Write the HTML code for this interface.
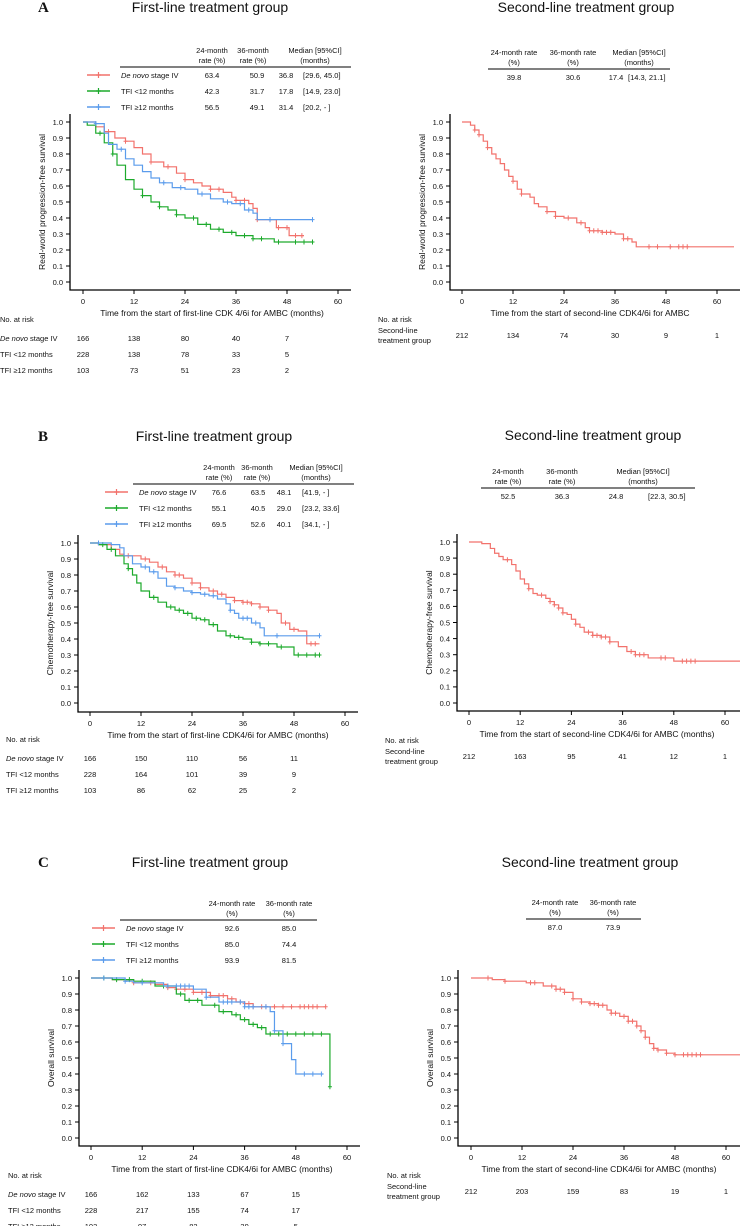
<!DOCTYPE html>
<html><head><meta charset="utf-8"><style>
body{margin:0;background:#fff;width:740px;height:1226px;overflow:hidden}
svg{display:block;font-family:"Liberation Sans",Arial,sans-serif}
</style></head><body>
<svg id="fig" width="740" height="1226" viewBox="0 0 740 1226" xmlns="http://www.w3.org/2000/svg"></svg>
<script>
// ---- data (months, survival) ----
const ticksX=[0,12,24,36,48,60];
const ticksY=[0,0.1,0.2,0.3,0.4,0.5,0.6,0.7,0.8,0.9,1.0];
// Panel A (rwPFS)
const aRedT=[0,3,5,7.5,10,12,14,16,19,22,24,26,28,30,33,35,36,39,40,41,45.5,48.5];
const aRedS=[1,.97,.94,.9,.88,.84,.8,.75,.72,.68,.64,.62,.6,.58,.56,.53,.51,.49,.46,.39,.34,.29];
const aRedEnd=52;const aRedC=[6,10,16,20,24,30,32,36,38,41,44,46,48,50,51.5];
const aGrnT=[0,1,3,5,7,8,10,12,14,16,18,20,22,24,27,30,33,36,40,45];
const aGrnS=[1,.98,.93,.87,.8,.73,.64,.58,.54,.5,.47,.45,.42,.4,.36,.33,.31,.29,.27,.25];
const aGrnEnd=54;const aGrnC=[4,7,14,18,22,26,29,32,35,38,40,42,46,50,52,54];
const aBluT=[0,3,5,6,8,10,12,14,16,18,21,24,27,30,33,35,38,40,41];
const aBluS=[1,.99,.93,.86,.83,.77,.73,.69,.65,.62,.59,.58,.55,.52,.5,.49,.45,.43,.39];
const aBluEnd=54;const aBluC=[3,9,19,23,28,34,37,39,44,54];
const a2T=[0,2,3,4,5,6,7,8,9,10,11,12,13,14,16,17,18,20,22,24,27,29,30,33,36,38,40,41];
const a2S=[1,.98,.95,.92,.88,.84,.8,.77,.74,.7,.66,.63,.58,.55,.53,.49,.47,.44,.41,.4,.37,.34,.32,.31,.3,.27,.25,.22];
const a2End=64;const a2C=[3,4,6,12,14,20,22,25,28,30,31,32,33,34,35,38,39,44,46,49,51,52,53];
// Panel B (CFS)
const bRedT=[0,2,5,7,8,12,14,16,18,20,22,24,26,28,30,32,34,36,38,40,42,44,45,47,49,51];
const bRedS=[1,.99,.96,.93,.92,.9,.88,.85,.82,.8,.78,.75,.72,.7,.68,.66,.64,.63,.62,.6,.58,.56,.5,.46,.45,.37];
const bRedEnd=54;const bRedC=[9,13,17,20,21,24,26,29,31,34,36,37,38,40,42,46,48,52,53];
const bGrnT=[0,2,4,6,8,9,10,11,12,14,16,18,20,22,24,26,28,30,32,34,36,38,40,44,48];
const bGrnS=[1,.99,.96,.92,.87,.84,.8,.75,.7,.66,.63,.6,.58,.56,.53,.52,.49,.45,.42,.41,.4,.38,.37,.35,.3];
const bGrnEnd=54;const bGrnC=[3,5,9,15,19,21,23,25,27,29,33,35,38,40,42,45,49,51,53,54];
const bBluT=[0,5,7,8,10,12,14,16,18,20,22,24,26,28,30,32,33,34,35,38,40,41];
const bBluS=[1,.99,.97,.92,.87,.85,.82,.78,.73,.72,.7,.69,.68,.67,.65,.62,.58,.56,.53,.5,.47,.42];
const bBluEnd=54;const bBluC=[2,13,15,20,24,27,29,33,36,37,39,44,54];
const b2T=[0,3,5,6,7,8,10,11,12,13,14,15,16,18,19,20,21,22,23,24,25,26,27,29,31,33,35,37,39,42,48];
const b2S=[1,.99,.96,.93,.91,.89,.86,.82,.77,.74,.71,.68,.67,.65,.63,.61,.59,.56,.55,.52,.49,.47,.44,.42,.41,.38,.35,.32,.3,.28,.26];
const b2End=64;const b2C=[9,14,17,19,20,21,22,25,28,29,30,31,32,33,38,39,40,41,45,46,50,51,52,53];
// Panel C (OS)
const cRedT=[0,5,10,15,18,20,24,28,32,34,36,38];
const cRedS=[1,.99,.97,.96,.94,.93,.91,.89,.87,.85,.84,.82];
const cRedEnd=55;const cRedC=[10,14,18,20,22,24,26,28,30,31,33,35,36,37,38,40,41,43,45,47,49,50,51,52,53,55];
const cGrnT=[0,5,10,15,20,22,26,30,33,35,37,39,41,56];
const cGrnS=[1,.99,.98,.95,.9,.86,.83,.79,.77,.74,.71,.69,.65,.32];
const cGrnEnd=56;const cGrnC=[3,6,9,12,17,21,23,25,29,31,34,36,38,40,42,44,46,48,50,52,54,56];
const cBluT=[0,8,10,17,24,27,30,34,36,40,42,43,45,47,48];
const cBluS=[1,.98,.97,.95,.93,.88,.85,.85,.82,.82,.79,.67,.59,.49,.4];
const cBluEnd=54.5;const cBluC=[3,8,12,18,20,21,22,23,27,31,32,33,35,36,37,38,41,43,45,50,52,54];
const c2T=[0,5,8,13,17,20,22,24,26,28,30,32,33,35,37,39,40,41,42,43,44,46,48];
const c2S=[1,.99,.98,.97,.95,.93,.91,.87,.85,.84,.83,.8,.78,.76,.73,.7,.67,.63,.59,.56,.55,.53,.52];
const c2End=64;const c2C=[4,8,14,15,19,20,21,22,24,26,28,29,30,31,33,34,36,37,38,39,40,41,43,44,46,48,50,51,52,53,54];

const RED='#F2726C',GRN='#1DAA2C',BLU='#5B9CEC';
const svg=document.getElementById('fig');
const NS='http://www.w3.org/2000/svg';
function el(tag,attrs,parent){const e=document.createElementNS(NS,tag);for(const k in attrs)e.setAttribute(k,attrs[k]);(parent||svg).appendChild(e);return e;}
function txt(x,y,s,size,anchor,parent,extra){const t=el('text',Object.assign({x:x,y:y,'font-size':size,'text-anchor':anchor||'start',fill:'#111'},extra||{}),parent);t.textContent=s;return t;}

function panel(P){
  const g=el('g',{});
  
  
  const sx=v=>P.x0+(P.x60-P.x0)*v/60, sy=v=>P.yb+(P.yt-P.yb)*v;
  const ax=el('path',{d:`M${P.ax} ${P.yt-8}V${P.axy}H${P.xend}`,stroke:'#000','stroke-width':1.3,fill:'none'},g);
  
  
  ticksY.forEach(v=>{el('line',{x1:P.ax-4,x2:P.ax,y1:sy(v),y2:sy(v),stroke:'#000','stroke-width':1},g);
    txt(P.ax-7,sy(v)+2.8,v.toFixed(1),7.5,'end',g);});
  ticksX.forEach(v=>{el('line',{x1:sx(v),x2:sx(v),y1:P.axy,y2:P.axy+4,stroke:'#000','stroke-width':1},g);
    txt(sx(v),P.axy+14,String(v),7.5,'middle',g);});
  const yt=txt(0,0,P.ytitle,8.5,'middle',g,{transform:`translate(${P.ax-25},${(P.yt+P.yb)/2}) rotate(-90)`});
  
  
  const xt=txt(P.xtc,P.axy+26,P.xtitle,8.5,'middle',g);
  
  
  P.series.forEach(s=>{
    let d=`M${sx(s.t[0])} ${sy(s.s[0])}`;
    for(let i=1;i<s.t.length;i++){d+=`H${sx(s.t[i])}V${sy(s.s[i])}`;}
    d+=`H${sx(s.end)}`;
    const p=el('path',{d:d,stroke:s.c,'stroke-width':1.2,fill:'none'},g);
    
    
    s.cens.forEach(ct=>{let v=s.s[0];for(let i=0;i<s.t.length;i++){if(s.t[i]<=ct)v=s.s[i];}
      const cx=sx(ct),cy=sy(v);
      const m=el('path',{d:`M${cx} ${cy-2.5}V${cy+2.5}M${cx-2} ${cy}H${cx+2}`,stroke:s.c,'stroke-width':1},g);
      
      });
  });
  txt(P.rlx,P.ry0,'No. at risk',7.5,'start',g);
  P.risk.forEach((r,i)=>{
    if(r.lab2){
      txt(P.rlx,P.ry0+11,r.lab,7.5,'start',g);txt(P.rlx,P.ry0+21,r.lab2,7.5,'start',g);
      r.v.forEach((v,j)=>txt(sx(ticksX[j]),P.ry0+16,String(v),7.5,'middle',g));
    } else {
      const y=P.ry0+16*(i+1);
      const t=txt(P.rlx,y+3,'',7.5,'start',g);
      if(r.it){const a=el('tspan',{'font-style':'italic'},t);a.textContent='De novo';const b=el('tspan',{},t);b.textContent=' stage IV';}
      else t.textContent=r.lab;
      r.v.forEach((v,j)=>txt(sx(ticksX[j]),y+3,String(v),7.5,'middle',g));
    }
  });
  const ti=txt(P.tc,P.ty,P.title,14,'middle',g);
  
  
  if(P.letter){txt(38,P.ty,P.letter,15,'start',g,{'font-family':'Liberation Serif, serif','font-weight':'bold'});}
  const L=P.leg;
  L.heads.forEach(h=>{txt(h[0],L.hy,h[1],7.5,'middle',g);txt(h[0],L.hy+10,h[2],7.5,'middle',g);});
  el('line',{x1:L.r0,x2:L.r1,y1:L.hy+14,y2:L.hy+14,stroke:'#000','stroke-width':1},g);
  L.rows.forEach((r,i)=>{
    const y=L.hy+25+16*i;
    if(r.c){const lg=el('g',{},g);
      
      
      el('line',{x1:L.lx,x2:L.lx+23,y1:y-3,y2:y-3,stroke:r.c,'stroke-width':1.5},lg);
      el('path',{d:`M${L.lx+11.5} ${y-6}V${y}M${L.lx+9} ${y-3}H${L.lx+14}`,stroke:r.c,'stroke-width':1.2},lg);
      const t=txt(L.lx+34,y,'',7.5,'start',lg);
      if(r.it){const a=el('tspan',{'font-style':'italic'},t);a.textContent='De novo';const b=el('tspan',{},t);b.textContent=' stage IV';}
      else t.textContent=r.lab;}
    r.v.forEach(c=>txt(c[0],y,c[1],7.5,c[2]||'middle',g));
  });
}

const xt1='Time from the start of first-line CDK4/6i for AMBC (months)';
panel({name:'panel-a-first-line',x0:83,x60:338,yt:122,yb:282,ax:70,axy:290,xend:351,ytitle:'Real-world progression-free survival',
 xtitle:'Time from the start of first-line CDK 4/6i for AMBC (months)',xtc:212,
 series:[{name:'de-novo',t:aRedT,s:aRedS,end:aRedEnd,cens:aRedC,c:RED},{name:'tfi-lt12',t:aGrnT,s:aGrnS,end:aGrnEnd,cens:aGrnC,c:GRN},{name:'tfi-ge12',t:aBluT,s:aBluS,end:aBluEnd,cens:aBluC,c:BLU}],
 rlx:0,ry0:322,risk:[{it:1,v:[166,138,80,40,7]},{lab:'TFI <12 months',v:[228,138,78,33,5]},{lab:'TFI \u226512 months',v:[103,73,51,23,2]}],
 title:'First-line treatment group',tc:210,ty:12,letter:'A',
 leg:{hy:53,r0:120,r1:351,lx:87,heads:[[212,'24-month','rate (%)'],[253,'36-month','rate (%)'],[315,'Median [95%CI]','(months)']],
  rows:[{it:1,c:RED,v:[[212,'63.4'],[257,'50.9'],[286,'36.8'],[303,'[29.6, 45.0]','start']]},
        {lab:'TFI <12 months',c:GRN,v:[[212,'42.3'],[257,'31.7'],[286,'17.8'],[303,'[14.9, 23.0]','start']]},
        {lab:'TFI \u226512 months',c:BLU,v:[[212,'56.5'],[257,'49.1'],[286,'31.4'],[303,'[20.2,    -   ]','start']]}]}});
panel({name:'panel-a-second-line',x0:462,x60:717,yt:122,yb:282,ax:450,axy:290,xend:740,ytitle:'Real-world progression-free survival',
 xtitle:'Time from the start of second-line CDK4/6i for AMBC',xtc:590,
 series:[{name:'second-line',t:a2T,s:a2S,end:a2End,cens:a2C,c:RED}],
 rlx:378,ry0:322,risk:[{lab:'Second-line',lab2:'treatment group',v:[212,134,74,30,9,1]}],
 title:'Second-line treatment group',tc:586,ty:12,
 leg:{hy:55,r0:488,r1:670,lx:0,heads:[[514,'24-month rate','(%)'],[573,'36-month rate','(%)'],[639,'Median [95%CI]','(months)']],
  rows:[{v:[[514,'39.8'],[573,'30.6'],[616,'17.4'],[628,'[14.3, 21.1]','start']]}]}});
panel({name:'panel-b-first-line',x0:90,x60:345,yt:543,yb:703,ax:78,axy:712,xend:358,ytitle:'Chemotherapy-free survival',
 xtitle:xt1,xtc:218,
 series:[{name:'de-novo',t:bRedT,s:bRedS,end:bRedEnd,cens:bRedC,c:RED},{name:'tfi-lt12',t:bGrnT,s:bGrnS,end:bGrnEnd,cens:bGrnC,c:GRN},{name:'tfi-ge12',t:bBluT,s:bBluS,end:bBluEnd,cens:bBluC,c:BLU}],
 rlx:6,ry0:742,risk:[{it:1,v:[166,150,110,56,11]},{lab:'TFI <12 months',v:[228,164,101,39,9]},{lab:'TFI \u226512 months',v:[103,86,62,25,2]}],
 title:'First-line treatment group',tc:214,ty:441,letter:'B',
 leg:{hy:470,r0:133,r1:354,lx:105,heads:[[219,'24-month','rate (%)'],[257,'36-month','rate (%)'],[316,'Median [95%CI]','(months)']],
  rows:[{it:1,c:RED,v:[[219,'76.6'],[258,'63.5'],[284,'48.1'],[302,'[41.9,    -   ]','start']]},
        {lab:'TFI <12 months',c:GRN,v:[[219,'55.1'],[258,'40.5'],[284,'29.0'],[302,'[23.2, 33.6]','start']]},
        {lab:'TFI \u226512 months',c:BLU,v:[[219,'69.5'],[258,'52.6'],[284,'40.1'],[302,'[34.1,    -   ]','start']]}]}});
panel({name:'panel-b-second-line',x0:469,x60:725,yt:542,yb:703,ax:457,axy:711,xend:740,ytitle:'Chemotherapy-free survival',
 xtitle:'Time from the start of second-line CDK4/6i for AMBC (months)',xtc:597,
 series:[{name:'second-line',t:b2T,s:b2S,end:b2End,cens:b2C,c:RED}],
 rlx:385,ry0:743,risk:[{lab:'Second-line',lab2:'treatment group',v:[212,163,95,41,12,1]}],
 title:'Second-line treatment group',tc:593,ty:440,
 leg:{hy:474,r0:481,r1:695,lx:0,heads:[[508,'24-month','rate (%)'],[562,'36-month','rate (%)'],[643,'Median [95%CI]','(months)']],
  rows:[{v:[[508,'52.5'],[562,'36.3'],[616,'24.8'],[648,'[22.3, 30.5]','start']]}]}});
panel({name:'panel-c-first-line',x0:91,x60:347,yt:978,yb:1138,ax:79,axy:1146,xend:360,ytitle:'Overall survival',
 xtitle:xt1,xtc:222,
 series:[{name:'de-novo',t:cRedT,s:cRedS,end:cRedEnd,cens:cRedC,c:RED},{name:'tfi-lt12',t:cGrnT,s:cGrnS,end:cGrnEnd,cens:cGrnC,c:GRN},{name:'tfi-ge12',t:cBluT,s:cBluS,end:cBluEnd,cens:cBluC,c:BLU}],
 rlx:8,ry0:1178,risk:[{it:1,v:[166,162,133,67,15]},{lab:'TFI <12 months',v:[228,217,155,74,17]},{lab:'TFI \u226512 months',v:[103,97,82,39,5]}],
 title:'First-line treatment group',tc:210,ty:867,letter:'C',
 leg:{hy:906,r0:120,r1:317,lx:92,heads:[[232,'24-month rate','(%)'],[289,'36-month rate','(%)']],
  rows:[{it:1,c:RED,v:[[232,'92.6'],[289,'85.0']]},
        {lab:'TFI <12 months',c:GRN,v:[[232,'85.0'],[289,'74.4']]},
        {lab:'TFI \u226512 months',c:BLU,v:[[232,'93.9'],[289,'81.5']]}]}});
panel({name:'panel-c-second-line',x0:471,x60:726,yt:978,yb:1138,ax:458,axy:1146,xend:740,ytitle:'Overall survival',
 xtitle:'Time from the start of second-line CDK4/6i for AMBC (months)',xtc:599,
 series:[{name:'second-line',t:c2T,s:c2S,end:c2End,cens:c2C,c:RED}],
 rlx:387,ry0:1178,risk:[{lab:'Second-line',lab2:'treatment group',v:[212,203,159,83,19,1]}],
 title:'Second-line treatment group',tc:590,ty:867,
 leg:{hy:905,r0:526,r1:641,lx:0,heads:[[555,'24-month rate','(%)'],[613,'36-month rate','(%)']],
  rows:[{v:[[555,'87.0'],[613,'73.9']]}]}});
</script>
</body></html>
